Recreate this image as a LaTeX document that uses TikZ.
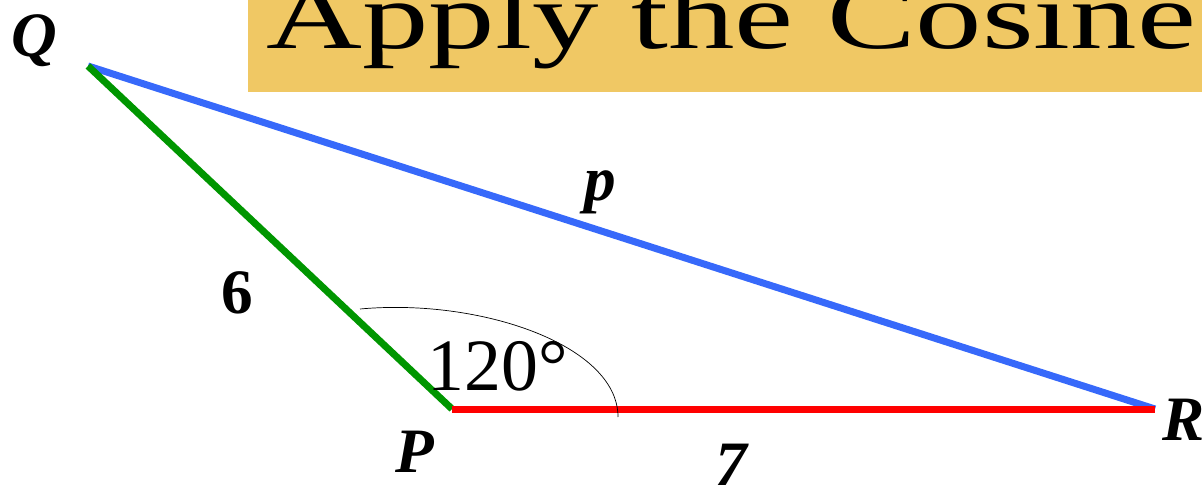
\documentclass[tikz,border=0pt]{standalone}
\usepackage{fontspec}
\setmainfont{Liberation Serif}
\usetikzlibrary{positioning}
\definecolor{sideq}{RGB}{0,150,0}
\definecolor{sider}{RGB}{255,0,0}
\definecolor{sidep}{RGB}{55,105,250}
\definecolor{titlebg}{RGB}{240,200,100}

\begin{document}
\begin{tikzpicture}[
    x=0.02cm, y=-0.02cm,
    side/.style={line width=0.14cm},
    vertex/.style={font=\fontsize{36}{36}\selectfont\bfseries\itshape, inner sep=0pt, anchor=base},
    length/.style={font=\fontsize{36}{36}\selectfont\bfseries, inner sep=0pt, anchor=base},
    angle/.style={font=\fontsize{42}{42}\selectfont, inner sep=0pt, anchor=base}
]
\useasboundingbox (0,0) rectangle (1202,489);
\clip (0,0) rectangle (1202,489);

% title banner
\fill[titlebg] (248,0) rectangle (1202,92);
\node[font=\fontsize{54}{54}\selectfont, inner sep=0pt, anchor=base west] (title) at (266,49) {\scalebox{1.4}[1]{Apply the Cosine}};

% corners
\coordinate (Q) at (88,66);
\coordinate (P) at (452,409);
\coordinate (R) at (1155,409);

% sides
\draw[side, sidep] (Q) -- (R);
\draw[side, sideq] (Q) -- (P);
\draw[side, sider] (P) -- (R);

% angle mark
\coordinate (a1) at (360,309);
\coordinate (a2) at (618,417);
\draw[thin] (a1) .. controls (480,298) and (618,345) .. (a2);

\node[vertex] (lQ) at (34,57) {Q};
\node[vertex] (lP) at (415,472) {P};
\node[vertex] (lR) at (1184,440) {R};
\node[vertex] (lp) at (600,201) {p};
\node[length] (l6) at (237,313) {6};
\node[vertex] (l7) at (731,485) {7};
\node[angle] (ang) at (498,390) {120°};

\end{tikzpicture}
\end{document}
